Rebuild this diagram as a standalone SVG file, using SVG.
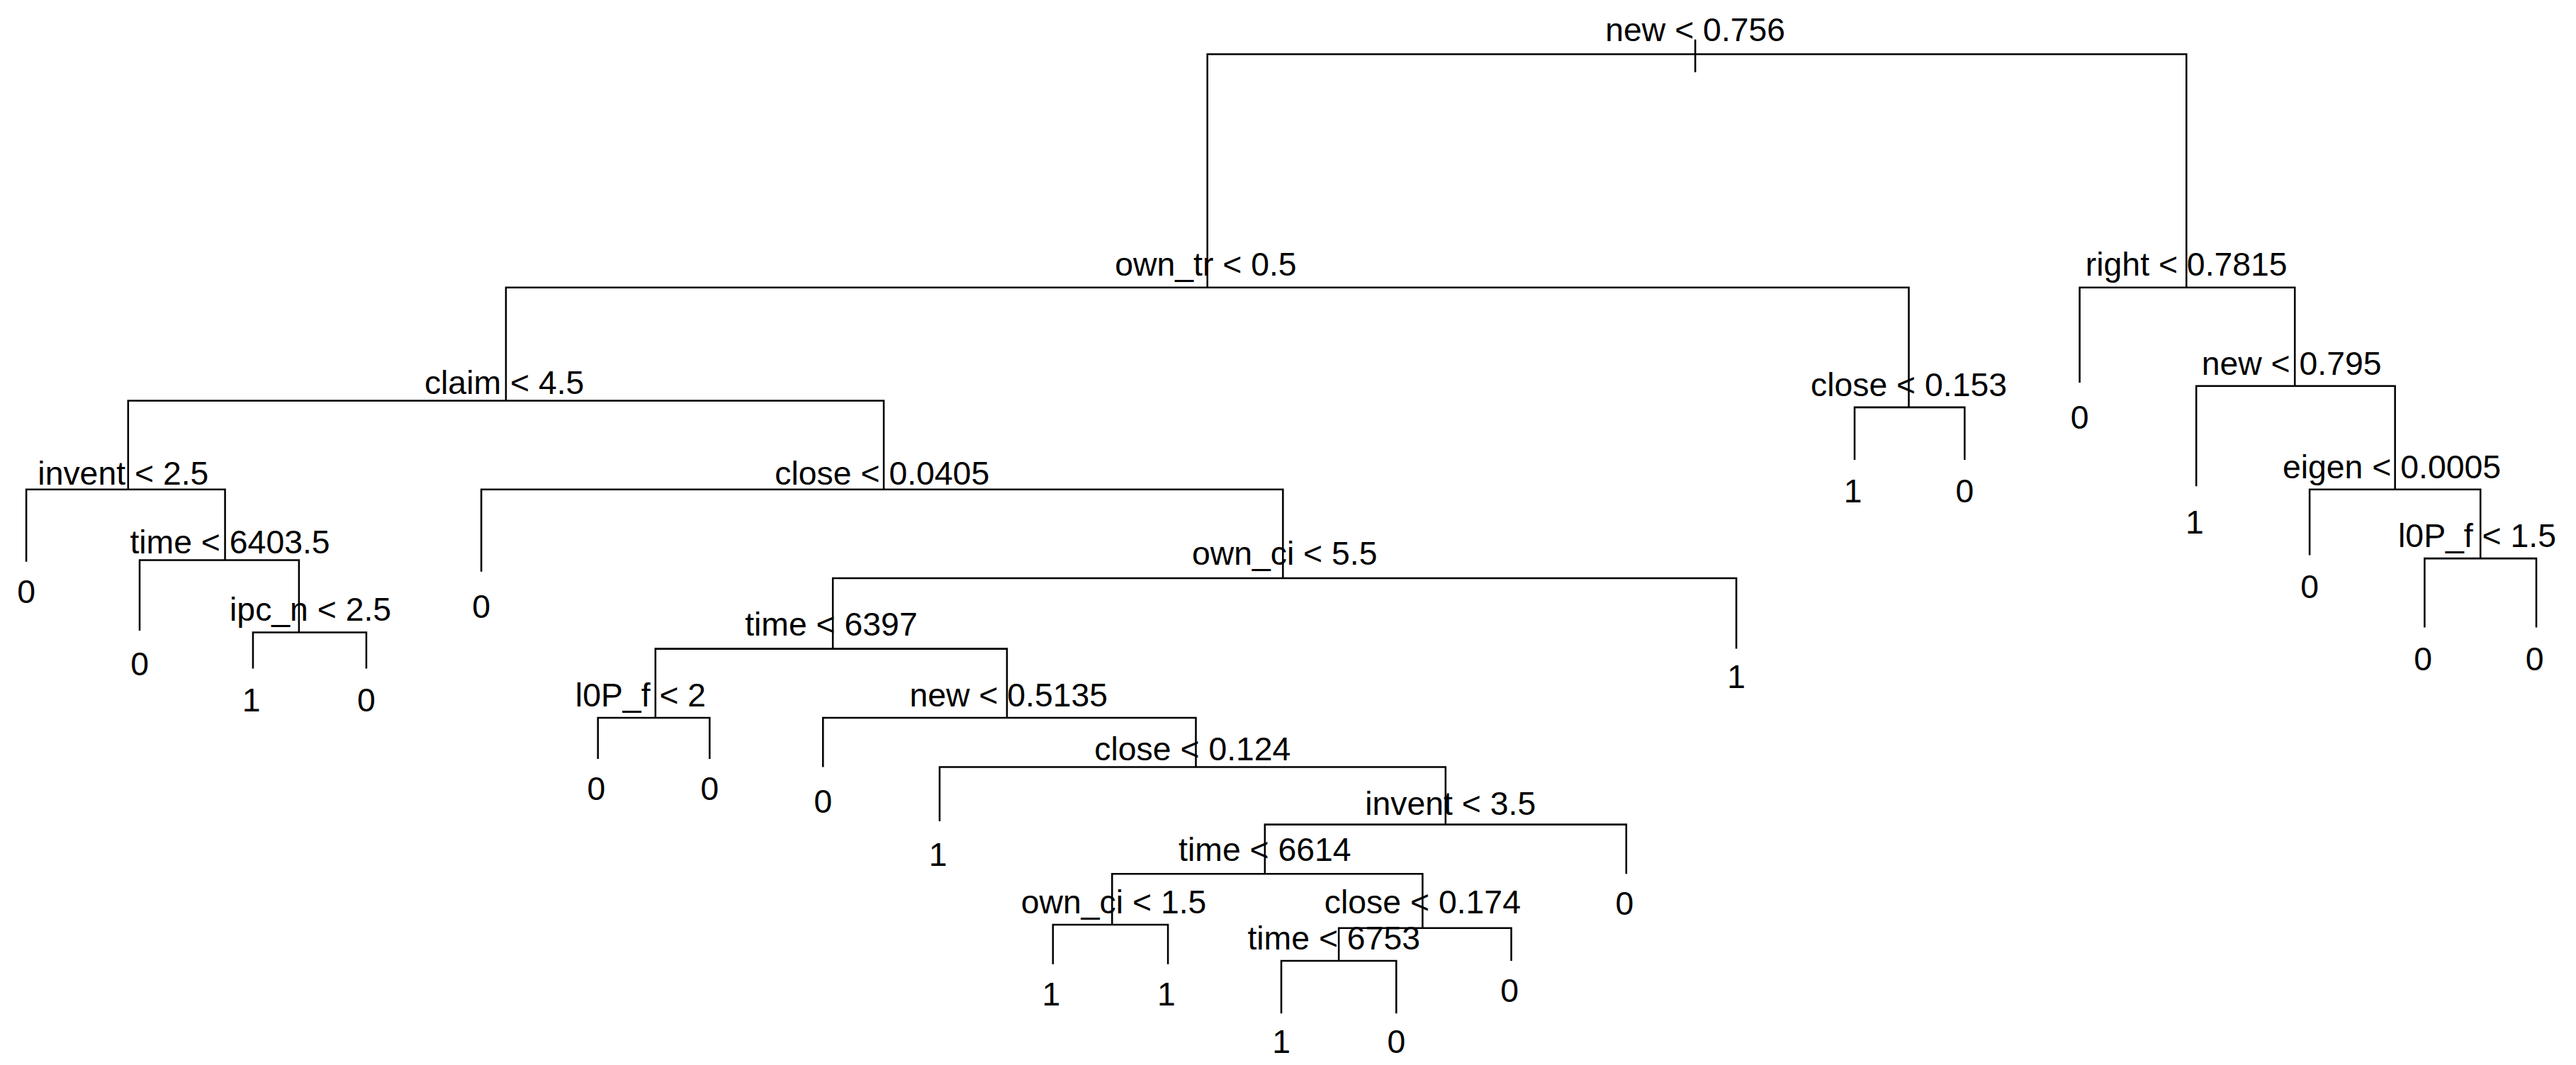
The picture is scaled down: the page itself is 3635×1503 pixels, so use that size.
<svg xmlns="http://www.w3.org/2000/svg" width="3635" height="1503" viewBox="0 0 3635 1503">
<style>
.e{fill:none;stroke:#000;stroke-width:1.1}
text{font-family:"Liberation Sans",Arial,sans-serif;font-size:20px;fill:#000;text-anchor:middle}
</style>
<rect width="3635" height="1503" fill="#fff"/>
<g transform="scale(2.318)">
<g id="connectors" class="e">
<path d="M1032 24V44M735 175V33H1331V175"/>
<path d="M308 244V175H1162V248"/>
<path d="M1266 233V175H1397V235"/>
<path d="M78 298V244H538V298"/>
<path d="M1129 280V248H1196V280"/>
<path d="M1337 296V235H1458V298"/>
<path d="M1406 338V298H1510V340"/>
<path d="M1476 382V340H1544V382"/>
<path d="M16 342V298H137V341"/>
<path d="M85 384V341H182V385"/>
<path d="M154 407V385H223V407"/>
<path d="M293 348V298H781V352"/>
<path d="M507 395V352H1057V395"/>
<path d="M399 437V395H613V437"/>
<path d="M364 462V437H432V462"/>
<path d="M501 467V437H728V467"/>
<path d="M572 500V467H880V502"/>
<path d="M770 532V502H990V532"/>
<path d="M677 563V532H866V565"/>
<path d="M641 587V563H711V587"/>
<path d="M815 585V565H920V585"/>
<path d="M780 617V585H850V617"/>
</g>
<g id="n_root"><text x="1032" y="25">new &lt; 0.756</text></g>
<g id="n_own_tr"><text x="734" y="168">own_tr &lt; 0.5</text></g>
<g id="n_right"><text x="1331" y="168">right &lt; 0.7815</text></g>
<g id="n_claim"><text x="307" y="240">claim &lt; 4.5</text></g>
<g id="n_close153"><text x="1162" y="241">close &lt; 0.153</text></g>
<g id="l_1129"><text x="1128" y="306">1</text></g>
<g id="l_1196"><text x="1196" y="306">0</text></g>
<g id="l_1266"><text x="1266" y="261">0</text></g>
<g id="n_new795"><text x="1395" y="228">new &lt; 0.795</text></g>
<g id="l_1337"><text x="1336" y="325">1</text></g>
<g id="n_eigen"><text x="1456" y="291">eigen &lt; 0.0005</text></g>
<g id="l_1406"><text x="1406" y="364">0</text></g>
<g id="n_l0p15"><text x="1508" y="333">l0P_f &lt; 1.5</text></g>
<g id="l_1476"><text x="1475" y="408">0</text></g>
<g id="l_1544"><text x="1543" y="408">0</text></g>
<g id="n_invent25"><text x="75" y="295">invent &lt; 2.5</text></g>
<g id="l_16"><text x="16" y="367">0</text></g>
<g id="n_time64035"><text x="140" y="337">time &lt; 6403.5</text></g>
<g id="l_85"><text x="85" y="411">0</text></g>
<g id="n_ipc"><text x="189" y="378">ipc_n &lt; 2.5</text></g>
<g id="l_154"><text x="153" y="433">1</text></g>
<g id="l_223"><text x="223" y="433">0</text></g>
<g id="n_close0405"><text x="537" y="295">close &lt; 0.0405</text></g>
<g id="l_293"><text x="293" y="376">0</text></g>
<g id="n_own_ci55"><text x="782" y="344">own_ci &lt; 5.5</text></g>
<g id="l_1057"><text x="1057" y="419">1</text></g>
<g id="n_time6397"><text x="506" y="387">time &lt; 6397</text></g>
<g id="n_l0p2"><text x="390" y="430">l0P_f &lt; 2</text></g>
<g id="l_364"><text x="363" y="487">0</text></g>
<g id="l_432"><text x="432" y="487">0</text></g>
<g id="n_new5135"><text x="614" y="430">new &lt; 0.5135</text></g>
<g id="l_501"><text x="501" y="495">0</text></g>
<g id="n_close124"><text x="726" y="463">close &lt; 0.124</text></g>
<g id="l_572"><text x="571" y="527">1</text></g>
<g id="n_invent35"><text x="883" y="496">invent &lt; 3.5</text></g>
<g id="l_990"><text x="989" y="557">0</text></g>
<g id="n_time6614"><text x="770" y="524">time &lt; 6614</text></g>
<g id="n_own_ci15"><text x="678" y="556">own_ci &lt; 1.5</text></g>
<g id="l_641"><text x="640" y="612">1</text></g>
<g id="l_711"><text x="710" y="612">1</text></g>
<g id="n_close174"><text x="866" y="556">close &lt; 0.174</text></g>
<g id="l_920"><text x="919" y="610">0</text></g>
<g id="n_time6753"><text x="812" y="578">time &lt; 6753</text></g>
<g id="l_780"><text x="780" y="641">1</text></g>
<g id="l_850"><text x="850" y="641">0</text></g>
</g>
</svg>
